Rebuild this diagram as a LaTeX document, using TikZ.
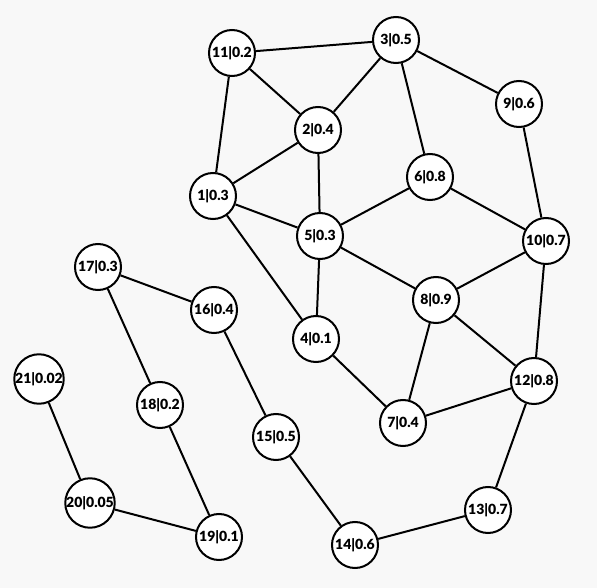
\documentclass[tikz,border=0pt]{standalone}
\usepackage{fontspec}
\setmainfont{Lato}[BoldFont=* Black]
\usetikzlibrary{positioning}
\definecolor{bg}{HTML}{F8F8F8}
\definecolor{ink}{HTML}{000000}

\begin{document}
\begin{tikzpicture}[
  x=0.75pt, y=-0.75pt,
  font=\fontsize{10.5}{11}\selectfont\bfseries, line width=1.5pt,
  vtx/.style={circle, draw=ink, fill=white, minimum size=34.5pt, inner sep=0pt, text=ink},
  edge/.style={draw=ink}]

\fill[bg] (0,0) rectangle (597,588);
\useasboundingbox (0,0) rectangle (597,588);

% main component
\node[vtx] (n11) at (232, 53) {11|0.2};
\node[vtx] (n3)  at (396, 40) {3|0.5};
\node[vtx] (n9)  at (519,104) {9|0.6};
\node[vtx] (n2)  at (318,130) {2|0.4};
\node[vtx] (n6)  at (430,177) {6|0.8};
\node[vtx] (n1)  at (213,196) {1|0.3};
\node[vtx] (n5)  at (320,236) {5|0.3};
\node[vtx] (n10) at (546,241) {10|0.7};
\node[vtx] (n8)  at (436,300) {8|0.9};
\node[vtx] (n4)  at (316,339) {4|0.1};
\node[vtx] (n12) at (534,381) {12|0.8};
\node[vtx] (n7)  at (403,423) {7|0.4};
\node[vtx] (n13) at (488,510) {13|0.7};
\node[vtx] (n14) at (355,545) {14|0.6};
\node[vtx] (n15) at (276,437) {15|0.5};
\node[vtx] (n16) at (214,310) {16|0.4};
\node[vtx] (n17) at ( 98,267) {17|0.3};
\node[vtx] (n18) at (160,405) {18|0.2};
\node[vtx] (n19) at (219,537) {19|0.1};
\node[vtx] (n20) at ( 90,503) {20|0.05};
\node[vtx] (n21) at ( 39,379) {21|0.02};

% upper part
\draw[edge] (n11) -- (n3);
\draw[edge] (n11) -- (n2);
\draw[edge] (n11) -- (n1);
\draw[edge] (n3) -- (n2);
\draw[edge] (n3) -- (n6);
\draw[edge] (n3) -- (n9);
\draw[edge] (n2) -- (n1);
\draw[edge] (n2) -- (n5);
\draw[edge] (n1) -- (n5);
\draw[edge] (n1) -- (n4);
\draw[edge] (n6) -- (n5);
\draw[edge] (n6) -- (n10);
\draw[edge] (n9) -- (n10);

% lower part
\draw[edge] (n5) -- (n4);
\draw[edge] (n5) -- (n8);
\draw[edge] (n8) -- (n10);
\draw[edge] (n8) -- (n7);
\draw[edge] (n8) -- (n12);
\draw[edge] (n10) -- (n12);
\draw[edge] (n12) -- (n7);
\draw[edge] (n4) -- (n7);

% chain down to 21
\draw[edge] (n12) -- (n13);
\draw[edge] (n13) -- (n14);
\draw[edge] (n14) -- (n15);
\draw[edge] (n15) -- (n16);
\draw[edge] (n16) -- (n17);
\draw[edge] (n17) -- (n18);
\draw[edge] (n18) -- (n19);
\draw[edge] (n19) -- (n20);
\draw[edge] (n20) -- (n21);
\end{tikzpicture}
\end{document}
